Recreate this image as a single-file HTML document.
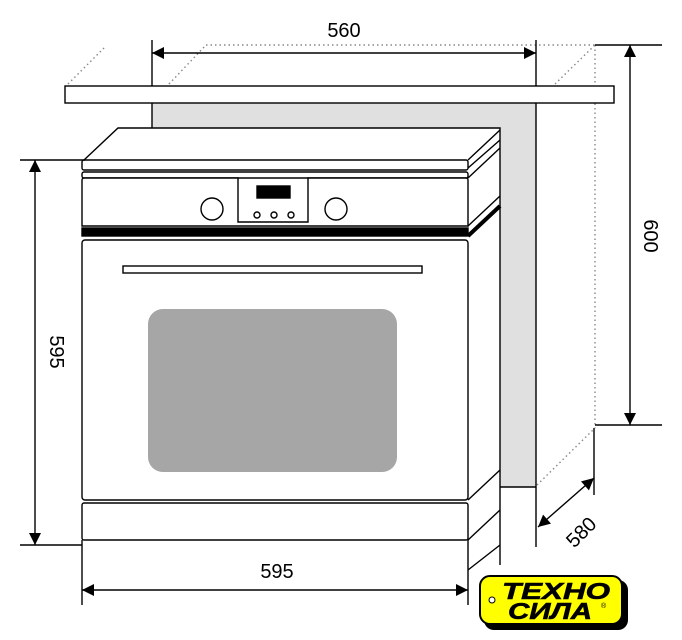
<!DOCTYPE html>
<html><head><meta charset="utf-8"><style>body{margin:0;background:#fff}svg{display:block}</style></head><body>
<svg width="682" height="640" viewBox="0 0 682 640" xmlns="http://www.w3.org/2000/svg" font-family="Liberation Sans, DejaVu Sans, sans-serif">
<defs><marker id="a" viewBox="0 0 10 10" refX="10" refY="5" markerWidth="18" markerHeight="12" markerUnits="userSpaceOnUse" orient="auto-start-reverse"><path d="M0,0L10,5L0,10z" fill="#000"/></marker></defs>
<g stroke="#000" stroke-width="1.4" fill="none">
<g stroke="#888" stroke-dasharray="1.5,3">
<line x1="206" y1="45" x2="595" y2="45"/><line x1="68" y1="84" x2="106" y2="46"/><line x1="169" y1="84" x2="206" y2="45"/><line x1="555" y1="84" x2="595" y2="45"/><line x1="595" y1="45" x2="595" y2="428"/><line x1="537" y1="485" x2="595" y2="428"/>
</g>
<path d="M152,103H536V487H500V130H152z" fill="#e0e0e0" stroke="none"/>
<line x1="536" y1="103" x2="536" y2="547"/>
<line x1="152" y1="40" x2="152" y2="128"/><line x1="536" y1="40" x2="536" y2="103"/>
<line x1="500" y1="487" x2="536" y2="487"/>
<rect x="65" y="86" width="549" height="17" fill="#fff"/>
<line x1="152" y1="53" x2="536" y2="53" marker-start="url(#a)" marker-end="url(#a)"/>
<path d="M84,160L118,128H500V565" fill="#fff"/>
<rect x="82" y="160" width="386" height="10" rx="2" fill="#fff"/>
<rect x="82" y="172" width="386" height="6" rx="2" fill="#fff"/>
<path d="M84,178H238V222H308V178H466a2,2 0 0 1 2,2V226H82V180a2,2 0 0 1 2,-2z" fill="#fff"/>
<rect x="257" y="186" width="33" height="12" fill="#000"/>
<circle cx="212" cy="209" r="11"/><circle cx="336" cy="209" r="11"/>
<circle cx="257" cy="215" r="3"/><circle cx="274" cy="215" r="3"/><circle cx="291" cy="215" r="3"/>
<rect x="82" y="228" width="386" height="8" fill="#000"/>
<path d="M468,236L500,206" stroke-width="4"/>
<path d="M468,160L500,130M468,168L500,140M468,178L500,148M468,226L500,196"/>
<rect x="82" y="240" width="386" height="260" rx="3" fill="#fff"/>
<rect x="123" y="266" width="299" height="7" fill="#fff"/>
<rect x="148" y="309" width="249" height="163" rx="15" fill="#a6a6a6" stroke="none"/>
<rect x="82" y="503" width="386" height="37" rx="2" fill="#fff"/>
<path d="M468,500L500,470M468,540L500,510M468,570L500,545"/>
<line x1="20" y1="160" x2="85" y2="160"/><line x1="20" y1="545" x2="82" y2="545"/>
<line x1="35" y1="160" x2="35" y2="545" marker-start="url(#a)" marker-end="url(#a)"/>
<line x1="82" y1="540" x2="82" y2="605"/><line x1="468" y1="540" x2="468" y2="605"/>
<line x1="82" y1="590" x2="468" y2="590" marker-start="url(#a)" marker-end="url(#a)"/>
<line x1="595" y1="45" x2="662" y2="45"/><line x1="595" y1="425" x2="662" y2="425"/>
<line x1="630" y1="45" x2="630" y2="425" marker-start="url(#a)" marker-end="url(#a)"/>
<line x1="594" y1="428" x2="594" y2="495"/>
<line x1="538" y1="527" x2="594" y2="478" marker-start="url(#a)" marker-end="url(#a)"/>
</g>
<g font-size="20" fill="#000" text-anchor="middle">
<text x="344" y="37">560</text>
<text x="277" y="578">595</text>
<text transform="translate(50,352) rotate(90)">595</text>
<text transform="translate(644,236) rotate(90)">600</text>
<text transform="translate(586,537) rotate(-45)">580</text>
</g>
<rect x="484" y="580" width="144" height="50" rx="10" fill="#000"/>
<rect x="480" y="576" width="142" height="48" rx="10" fill="#ffff00" stroke="#000" stroke-width="2"/>
<circle cx="492" cy="600" r="3" fill="#fff" stroke="#000"/>
<g font-weight="bold" font-style="italic" font-size="23" fill="#000" text-anchor="middle" stroke="#000" stroke-width="0.6">
<text x="556" y="599" textLength="108" lengthAdjust="spacingAndGlyphs">ТЕХНО</text>
<text x="550" y="619" textLength="84" lengthAdjust="spacingAndGlyphs">СИЛА</text>
</g>
<text x="601" y="608" font-size="7">®</text>
</svg>
</body></html>
